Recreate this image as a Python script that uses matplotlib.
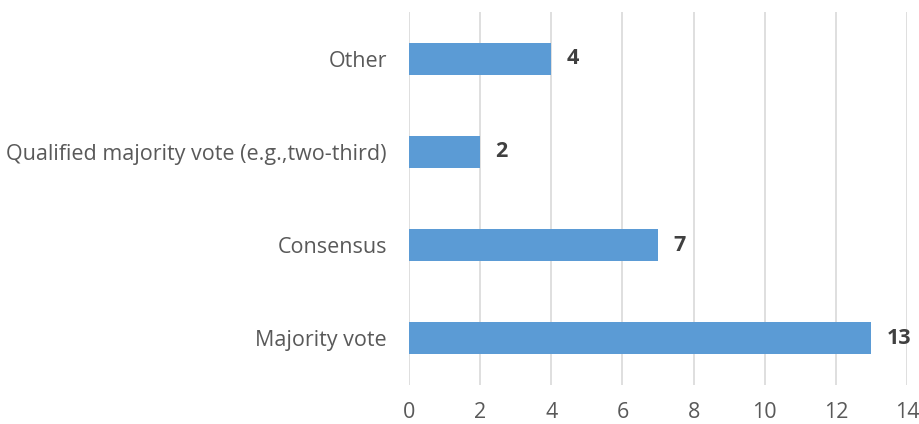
import matplotlib
matplotlib.use("Agg")
import matplotlib.pyplot as plt

categories = ["Majority vote", "Consensus", "Qualified majority vote (e.g.,two-third)", "Other"]
values = [13, 7, 2, 4]
x_ticks = [0, 2, 4, 6, 8, 10, 12, 14]

plt.rcParams['font.family'] = ['Open Sans', 'DejaVu Sans']

fig = plt.figure(figsize=(9.2, 4.24), dpi=100)
ax = fig.add_axes([409/920, 39/424, (907-409)/920, (385-12)/424])

ypos = list(range(len(categories)))
ax.barh(ypos, values, height=0.345, color="#5B9BD5", zorder=3)
for y, v in zip(ypos, values):
    ax.annotate(str(v), xy=(v, y), xytext=(11, 0), textcoords="offset points",
                va="center", ha="left", fontsize=15.5, fontweight="bold", color="#404040")

ax.set_xlim(0, 14)
ax.set_ylim(-0.5, 3.5)
ax.set_xticks(x_ticks)
ax.set_yticks(ypos)
ax.set_yticklabels(categories)
ax.grid(axis="x", color="#D9D9D9", linewidth=1.2, zorder=0)
for s in ax.spines.values():
    s.set_visible(False)
ax.tick_params(axis="both", length=0, labelsize=15.5, colors="#595959")
ax.tick_params(axis="y", pad=16)
ax.tick_params(axis="x", pad=12)

fig.savefig("out.png", dpi=100)
